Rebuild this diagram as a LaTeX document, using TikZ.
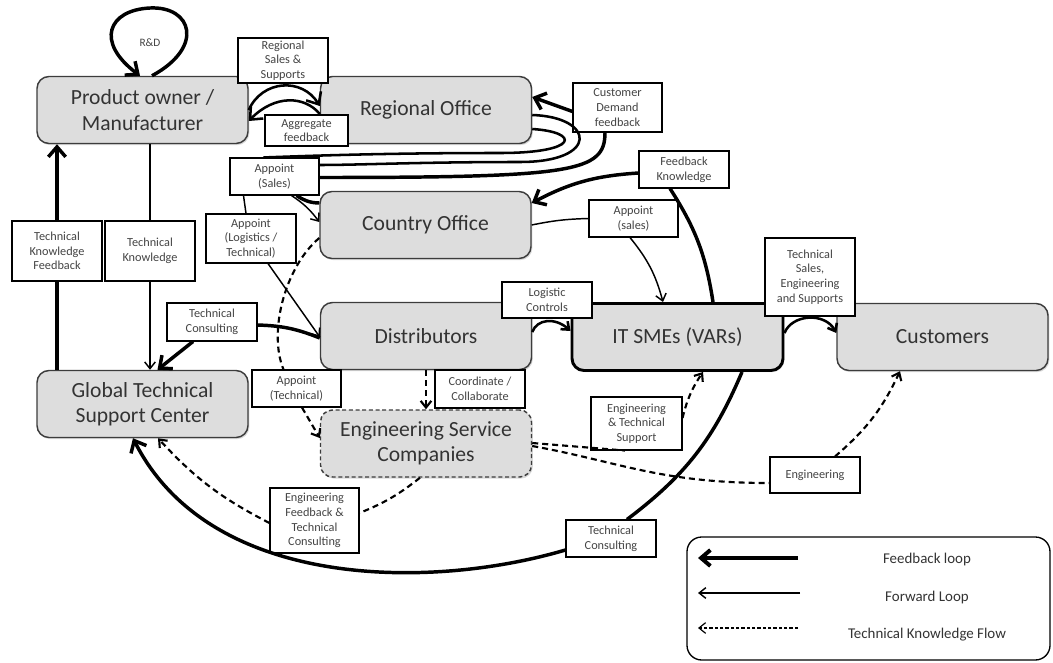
\documentclass[tikz,border=0pt]{standalone}
\usepackage{fontspec}
\setmainfont{Carlito}
\usetikzlibrary{arrows.meta,calc,shadows}
\definecolor{boxfill}{HTML}{DDDDDD}
\definecolor{boxline}{HTML}{3C3C3C}
\definecolor{txt}{HTML}{333333}
\definecolor{lbltxt}{HTML}{444444}
\begin{document}
\begin{tikzpicture}[x=0.75pt,y=0.75pt,
  box/.style={draw=boxline, fill=boxfill, rounded corners=9pt, line width=1.1pt,
    minimum width=158.25pt, minimum height=50.25pt, align=center, text=txt,
    font=\fontsize{16.2}{19}\selectfont,
    drop shadow={shadow xshift=1pt, shadow yshift=-1.2pt, opacity=0.3}},
  lbl/.style={draw=black, fill=white, line width=0.8pt, align=center, text=lbltxt,
    font=\fontsize{9.2}{11}\selectfont, minimum width=67.5pt, inner sep=1pt},
  thickln/.style={line width=2.6pt},
  medln/.style={line width=1.9pt},
  thinln/.style={line width=1.1pt},
  dashln/.style={line width=1.6pt, dash pattern=on 4.5pt off 3pt},
  tipthick/.style={-{Straight Barb[length=7.5pt,width=13pt]}},
  tipthin/.style={-{Straight Barb[length=5pt,width=8pt]}}
]
\useasboundingbox (0,0) rectangle (1053,662);

% main actors
\node[box] (po) at (142.5,552) {Product owner /\\Manufacturer};
\node[box] (ro) at (426,552) {Regional Office};
\node[box] (co) at (425.5,437) {Country Office};
\node[box] (dist) at (426,326) {Distributors};
\node[box, draw=black, line width=2.2pt] (it) at (677.5,325) {IT SMEs (VARs)};
\node[box] (cust) at (942.5,325) {Customers};
\node[box] (gtsc) at (142.5,258) {Global Technical\\Support Center};
\node[box, dash pattern=on 3pt off 2pt] (esc) at (426,218.5) {Engineering Service\\Companies};

% flow labels
\node[font=\fontsize{8.5}{10}\selectfont, text=lbltxt] (rnd) at (150,619) {R\&D};
\node[lbl, minimum height=33.75pt] (rss) at (283,601.5) {Regional\\Sales \&\\Supports};
\node[lbl, minimum width=62.25pt, minimum height=23.25pt] (agg) at (306.5,531.5) {Aggregate\\feedback};
\node[lbl, minimum width=66.75pt, minimum height=27.75pt] (aps) at (274.5,485.5) {Appoint\\(Sales)};
\node[lbl, minimum width=66.75pt, minimum height=36.75pt] (cdf) at (617.5,554.5) {Customer\\Demand\\feedback};
\node[lbl, minimum height=27.75pt] (fbk) at (684,492.5) {Feedback\\Knowledge};
\node[lbl, minimum width=66.75pt, minimum height=27.75pt] (aps2) at (633.5,443.5) {Appoint\\(sales)};
\node[lbl, minimum height=58.5pt] (tses) at (810,385) {Technical\\Sales,\\Engineering\\and Supports};
\node[lbl, minimum height=27pt] (lc) at (547,362) {Logistic\\Controls};
\node[lbl, minimum height=36.75pt] (alt) at (251,423.5) {Appoint\\(Logistics /\\Technical)};
\node[lbl, minimum height=45pt] (tkf) at (57,411) {Technical\\Knowledge\\Feedback};
\node[lbl, minimum height=45pt] (tk) at (150,411) {Technical\\Knowledge};
\node[lbl, minimum height=28.5pt] (tc1) at (212,340) {Technical\\Consulting};
\node[lbl, minimum width=66.75pt, minimum height=27.75pt] (apt) at (296.5,273.5) {Appoint\\(Technical)};
\node[lbl, minimum height=28.5pt] (cc) at (480,273) {Coordinate /\\Collaborate};
\node[lbl, minimum width=68.25pt, minimum height=39.75pt] (ets) at (636.5,238.5) {Engineering\\\& Technical\\Support};
\node[lbl, minimum height=27pt] (eng) at (815,187) {Engineering};
\node[lbl, minimum width=66.75pt, minimum height=48.75pt] (eftc) at (314.5,141.5) {Engineering\\Feedback \&\\Technical\\Consulting};
\node[lbl, minimum height=27.75pt] (tc2) at (611,123.5) {Technical\\Consulting};

% R&D self loop
\draw[thickln, tipthick] ($(po.north)+(9.5,0)$) .. controls (205,615) and (192,656) .. (150,654)
  .. controls (108,652) and (95,620) .. ($(po.north)+(-2.5,0)$);

% manufacturer <-> regional office
\draw[medln, tipthick] (po.east) .. controls (262,582) and (302,585) .. ($(ro.west)+(0,4)$);
\draw[medln, tipthick] ($(ro.west)+(0,-4)$) .. controls (305,566) and (275,568) .. ($(po.east)+(0,-11)$);

% customer demand feedback
\draw[thickln, tipthick] ($(cdf.west)+(0,-4)$) -- ($(ro.east)+(0,13)$);
\draw[thickln] ($(cdf.south)+(-12.5,0)$) .. controls (605,490) and (575,484.5) .. ($(aps.east)+(0,-1)$);

% regional office loops into the sales appointment
\draw[medln] ($(ro.east)+(0,-5)$) .. controls (595,545) and (600,500) .. (520,500)
  .. controls (420,500) and (360,497) .. ($(aps.east)+(0,11.5)$);
\draw[medln] ($(ro.east)+(0,-19)$) .. controls (580,530) and (580,509) .. (500,509)
  .. controls (400,509) and (330,507) .. ($(aps.north)+(-11,0)$);

% sales appointment to country office
\draw[thinln, tipthin] ($(aps.south)+(17,0)$) to[bend left=10] ($(co.west)+(0,3)$);
\draw[thickln] ($(aps.south)+(22,0)$) .. controls (303,462) and (310,459) .. ($(co.west)+(0,22)$);
\draw[thinln] ($(aps.south)+(-31,0)$) -- ($(alt.north)+(-5,0)$);
\draw[thinln, tipthin] ($(alt.south)+(17,0)$) -- ($(dist.west)+(0,-1)$);

% distributors consulting the support center
\draw[thickln] ($(dist.west)+(0,-2)$) to[bend right=10] ($(tc1.east)+(0,-3)$);
\draw[thickln, tipthick] ($(tc1.south)+(-19,0)$) -- ($(gtsc.north)+(15,0)$);

% technical knowledge and its feedback
\draw[thinln] ($(po.south)+(7.5,0)$) -- (tk.north);
\draw[thinln, tipthin] (tk.south) -- ($(gtsc.north)+(7.5,0)$);
\draw[thickln] ($(gtsc.north)+(-85.5,0)$) -- (tkf.south);
\draw[thickln, tipthick] (tkf.north) -- ($(po.south)+(-85.5,0)$);

% technical appointment of engineering services
\draw[dashln] ($(co.west)+(0,-13)$) .. controls (285,395) and (268,330) .. ($(apt.north)+(-13,0)$);
\draw[dashln, tipthin] ($(apt.south)+(5.5,0)$) -- ($(esc.west)+(0,5.5)$);
\draw[dashln, tipthin] (dist.south) -- (esc.north);

% engineering feedback to the support center
\draw[dashln] ($(esc.south)+(-6,0)$) to[bend left=8] ($(eftc.east)+(0,7.5)$);
\draw[dashln, tipthin] ($(eftc.west)+(0,-2.5)$) to[bend left=10] ($(gtsc.south)+(15.5,0)$);

% technical consulting from the VARs
\draw[thickln] ($(it.south)+(64.5,0)$) to[bend left=15] ($(tc2.north)+(16,0)$);
\draw[thickln, tipthick] ($(tc2.west)+(0,-11.5)$) .. controls (430,72) and (210,72) .. ($(gtsc.south)+(-9.5,0)$);

% engineering support to VARs and customers
\draw[dashln] ($(esc.east)+(0,0.5)$) -- ($(ets.south)+(-11.5,0)$);
\draw[dashln, tipthin] ($(ets.east)+(0,5.5)$) to[bend left=10] ($(it.south)+(25.5,0)$);
\draw[dashln] ($(esc.east)+(0,-2.5)$) .. controls (620,200) and (660,179) .. ($(eng.west)+(0,-8)$);
\draw[dashln, tipthin] ($(eng.north)+(20,0)$) to[bend right=12] ($(cust.south)+(-42.5,0)$);

% channel flows
\draw[medln, tipthin] ($(dist.east)+(0,4)$) .. controls (537,343) and (555,345) .. ($(it.west)+(0,6)$);
\draw[medln, tipthin] ($(it.east)+(0,4)$) .. controls (792,348) and (825,350) .. ($(cust.west)+(0,4)$);

% VAR feedback and appointment
\draw[thickln] ($(it.north)+(35.5,0)$) to[bend right=12] ($(fbk.south)+(-14,0)$);
\draw[thickln, tipthick] ($(fbk.west)+(0,-3.5)$) to[bend right=12] ($(co.east)+(0,22)$);
\draw[thinln] (co.east) to[bend left=5] (aps2.west);
\draw[thinln, tipthin] ($(aps2.south)+(-3.5,0)$) to[bend left=12] ($(it.north)+(-14.5,0)$);

% legend
\node[draw=black, line width=1pt, rounded corners=11pt, minimum width=272.25pt, minimum height=92.25pt] (leg) at (868.5,63.5) {};
\coordinate (l1a) at (798,104); \coordinate (l1b) at (698,104);
\coordinate (l2a) at (800,69);  \coordinate (l2b) at (698,69);
\coordinate (l3a) at (798,34);  \coordinate (l3b) at (698,34);
\draw[line width=3pt, -{Straight Barb[length=7pt,width=12pt]}] (l1a) -- (l1b);
\draw[thinln, tipthin] (l2a) -- (l2b);
\draw[line width=0.9pt, dash pattern=on 2.5pt off 1.5pt, tipthin] (l3a) -- (l3b);
\node[text=txt, font=\fontsize{11.2}{13}\selectfont] (t1) at (927,102) {Feedback loop};
\node[text=txt, font=\fontsize{11.2}{13}\selectfont] (t2) at (927,64) {Forward Loop};
\node[text=txt, font=\fontsize{11.2}{13}\selectfont] (t3) at (927,27) {Technical Knowledge Flow};
\end{tikzpicture}
\end{document}
